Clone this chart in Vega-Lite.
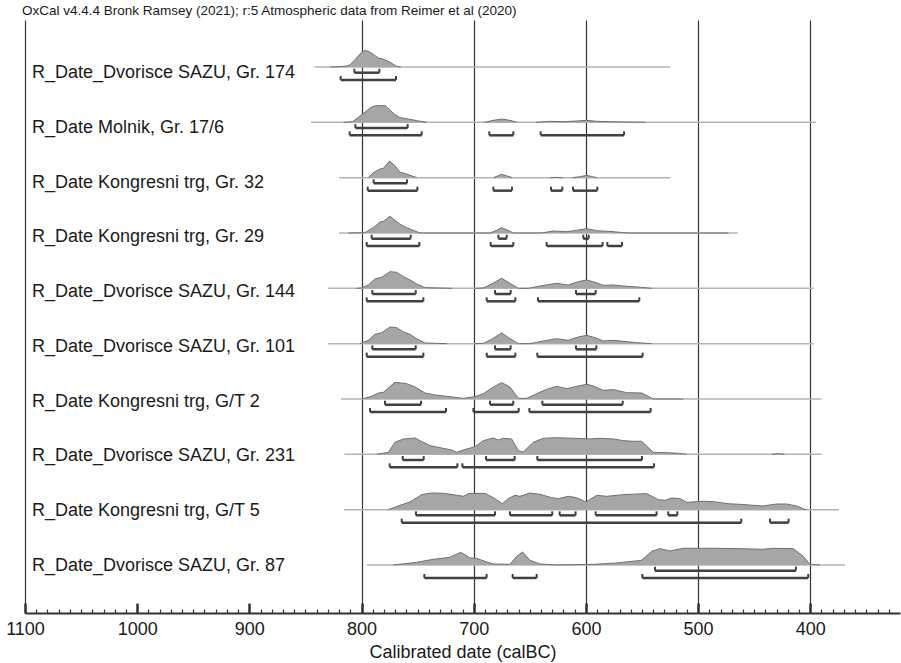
{
"$schema": "https://vega.github.io/schema/vega-lite/v6.json",
"width": 875, "height": 593,
"autosize": {"type": "none"},
"padding": {"left": 25, "top": 20, "right": 1, "bottom": 50},
"background": "white",
"title": {"text": "OxCal v4.4.4 Bronk Ramsey (2021); r:5 Atmospheric data from Reimer et al (2020)", "anchor": "start", "frame": "group", "font": "Liberation Sans", "fontSize": 13.5, "fontWeight": "normal", "color": "#1a1a1a", "offset": 3, "dx": -3},
"config": {"view": {"stroke": null}, "font": "Liberation Sans"},
"datasets": {
"rows": [
{"s":1,"name":"R_Date_Dvorisce SAZU, Gr. 174","start":842,"end":525},
{"s":2,"name":"R_Date Molnik, Gr. 17/6","start":845,"end":395},
{"s":3,"name":"R_Date Kongresni trg, Gr. 32","start":820,"end":524.5},
{"s":4,"name":"R_Date Kongresni trg, Gr. 29","start":820,"end":464.7},
{"s":5,"name":"R_Date_Dvorisce SAZU, Gr. 144","start":829.6,"end":397},
{"s":6,"name":"R_Date_Dvorisce SAZU, Gr. 101","start":829.6,"end":397},
{"s":7,"name":"R_Date Kongresni trg, G/T 2","start":818.3,"end":390},
{"s":8,"name":"R_Date_Dvorisce SAZU, Gr. 231","start":815.3,"end":390},
{"s":9,"name":"R_Date Kongresni trg, G/T 5","start":815.6,"end":374.4},
{"s":10,"name":"R_Date_Dvorisce SAZU, Gr. 87","start":795.4,"end":369.1}
],
"ranges": [
{"s":1,"lvl":"68.3","from":806.4,"to":784.1},
{"s":1,"lvl":"95.4","from":818.6,"to":769.3},
{"s":2,"lvl":"68.3","from":805.5,"to":758.9},
{"s":2,"lvl":"95.4","from":810.6,"to":746.4},
{"s":2,"lvl":"95.4","from":686.1,"to":664.7},
{"s":2,"lvl":"95.4","from":640.3,"to":566.0},
{"s":3,"lvl":"68.3","from":789.2,"to":759.5},
{"s":3,"lvl":"95.4","from":794.5,"to":750.2},
{"s":3,"lvl":"95.4","from":682.5,"to":665.9},
{"s":3,"lvl":"95.4","from":631.1,"to":621.0},
{"s":3,"lvl":"95.4","from":611.5,"to":589.8},
{"s":4,"lvl":"68.3","from":791.0,"to":756.2},
{"s":4,"lvl":"68.3","from":678.0,"to":670.6},
{"s":4,"lvl":"68.3","from":602.3,"to":597.5},
{"s":4,"lvl":"95.4","from":795.4,"to":748.5},
{"s":4,"lvl":"95.4","from":684.9,"to":664.7},
{"s":4,"lvl":"95.4","from":635.0,"to":585.1},
{"s":4,"lvl":"95.4","from":580.9,"to":567.8},
{"s":5,"lvl":"68.3","from":790.4,"to":751.7},
{"s":5,"lvl":"68.3","from":681.0,"to":667.1},
{"s":5,"lvl":"68.3","from":608.8,"to":591.3},
{"s":5,"lvl":"95.4","from":795.4,"to":744.9},
{"s":5,"lvl":"95.4","from":688.4,"to":662.9},
{"s":5,"lvl":"95.4","from":642.7,"to":552.4},
{"s":6,"lvl":"68.3","from":790.4,"to":751.7},
{"s":6,"lvl":"68.3","from":681.0,"to":667.1},
{"s":6,"lvl":"68.3","from":608.8,"to":590.7},
{"s":6,"lvl":"95.4","from":795.4,"to":744.9},
{"s":6,"lvl":"95.4","from":688.4,"to":662.9},
{"s":6,"lvl":"95.4","from":643.3,"to":549.4},
{"s":7,"lvl":"68.3","from":779.1,"to":747.0},
{"s":7,"lvl":"68.3","from":685.5,"to":664.7},
{"s":7,"lvl":"68.3","from":638.8,"to":567.2},
{"s":7,"lvl":"95.4","from":792.4,"to":724.7},
{"s":7,"lvl":"95.4","from":700.3,"to":659.9},
{"s":7,"lvl":"95.4","from":650.4,"to":542.3},
{"s":8,"lvl":"68.3","from":763.3,"to":744.6},
{"s":8,"lvl":"68.3","from":689.0,"to":663.5},
{"s":8,"lvl":"68.3","from":643.3,"to":550.0},
{"s":8,"lvl":"95.4","from":774.9,"to":714.6},
{"s":8,"lvl":"95.4","from":710.1,"to":539.3},
{"s":9,"lvl":"68.3","from":751.5,"to":681.0},
{"s":9,"lvl":"68.3","from":667.7,"to":630.0},
{"s":9,"lvl":"68.3","from":623.4,"to":609.2},
{"s":9,"lvl":"68.3","from":591.3,"to":537.0},
{"s":9,"lvl":"68.3","from":526.6,"to":518.5},
{"s":9,"lvl":"95.4","from":764.2,"to":461.5},
{"s":9,"lvl":"95.4","from":435.9,"to":419.3},
{"s":10,"lvl":"68.3","from":538.4,"to":412.8},
{"s":10,"lvl":"95.4","from":744.0,"to":688.5},
{"s":10,"lvl":"95.4","from":665.3,"to":643.9},
{"s":10,"lvl":"95.4","from":549.7,"to":401.8}
],
"dens": [
{"s":1,"g":1,"yr":828,"d":0},{"s":1,"g":1,"yr":820,"d":0.02},{"s":1,"g":1,"yr":813,"d":0.06},{"s":1,"g":1,"yr":810,"d":0.14},{"s":1,"g":1,"yr":805,"d":0.5},{"s":1,"g":1,"yr":800,"d":0.88},{"s":1,"g":1,"yr":796.5,"d":1},{"s":1,"g":1,"yr":792,"d":0.88},{"s":1,"g":1,"yr":788,"d":0.68},{"s":1,"g":1,"yr":785,"d":0.54},{"s":1,"g":1,"yr":781,"d":0.48},{"s":1,"g":1,"yr":775,"d":0.3},{"s":1,"g":1,"yr":769,"d":0.05},{"s":1,"g":1,"yr":765,"d":0},
{"s":2,"g":1,"yr":816,"d":0},{"s":2,"g":1,"yr":808,"d":0.04},{"s":2,"g":1,"yr":800,"d":0.45},{"s":2,"g":1,"yr":791,"d":0.92},{"s":2,"g":1,"yr":787,"d":1},{"s":2,"g":1,"yr":779,"d":1},{"s":2,"g":1,"yr":775,"d":0.76},{"s":2,"g":1,"yr":770,"d":0.45},{"s":2,"g":1,"yr":766,"d":0.29},{"s":2,"g":1,"yr":757,"d":0.18},{"s":2,"g":1,"yr":749,"d":0.08},{"s":2,"g":1,"yr":742,"d":0},
{"s":2,"g":2,"yr":690.5,"d":0},{"s":2,"g":2,"yr":682.5,"d":0.12},{"s":2,"g":2,"yr":675,"d":0.2},{"s":2,"g":2,"yr":667.7,"d":0.12},{"s":2,"g":2,"yr":661.7,"d":0},
{"s":2,"g":3,"yr":644.5,"d":0},{"s":2,"g":3,"yr":632,"d":0.06},{"s":2,"g":3,"yr":620,"d":0.04},{"s":2,"g":3,"yr":608,"d":0.08},{"s":2,"g":3,"yr":599.3,"d":0.12},{"s":2,"g":3,"yr":590.4,"d":0.06},{"s":2,"g":3,"yr":575.6,"d":0.03},{"s":2,"g":3,"yr":566.6,"d":0.02},{"s":2,"g":3,"yr":547,"d":0},
{"s":3,"g":1,"yr":794,"d":0},{"s":3,"g":1,"yr":789.5,"d":0.3},{"s":3,"g":1,"yr":783.5,"d":0.52},{"s":3,"g":1,"yr":780.5,"d":0.56},{"s":3,"g":1,"yr":775,"d":1},{"s":3,"g":1,"yr":770,"d":0.7},{"s":3,"g":1,"yr":765.7,"d":0.32},{"s":3,"g":1,"yr":759.8,"d":0.22},{"s":3,"g":1,"yr":750.8,"d":0},
{"s":3,"g":2,"yr":682.5,"d":0},{"s":3,"g":2,"yr":675,"d":0.2},{"s":3,"g":2,"yr":665.6,"d":0},
{"s":3,"g":3,"yr":632,"d":0},{"s":3,"g":3,"yr":626,"d":0.02},{"s":3,"g":3,"yr":621,"d":0},
{"s":3,"g":4,"yr":612,"d":0},{"s":3,"g":4,"yr":605,"d":0.06},{"s":3,"g":4,"yr":599.3,"d":0.14},{"s":3,"g":4,"yr":594,"d":0.06},{"s":3,"g":4,"yr":590.4,"d":0},
{"s":4,"g":1,"yr":811.7,"d":0},{"s":4,"g":1,"yr":797,"d":0.02},{"s":4,"g":1,"yr":789.5,"d":0.32},{"s":4,"g":1,"yr":783.5,"d":0.66},{"s":4,"g":1,"yr":780.5,"d":0.7},{"s":4,"g":1,"yr":774.6,"d":1},{"s":4,"g":1,"yr":770.2,"d":0.76},{"s":4,"g":1,"yr":765.7,"d":0.52},{"s":4,"g":1,"yr":759.8,"d":0.32},{"s":4,"g":1,"yr":747.9,"d":0},{"s":4,"g":1,"yr":685.5,"d":0},{"s":4,"g":1,"yr":679.5,"d":0.16},{"s":4,"g":1,"yr":675.1,"d":0.32},{"s":4,"g":1,"yr":670.6,"d":0.2},{"s":4,"g":1,"yr":664.7,"d":0},{"s":4,"g":1,"yr":639.4,"d":0},{"s":4,"g":1,"yr":629,"d":0.12},{"s":4,"g":1,"yr":617.1,"d":0.08},{"s":4,"g":1,"yr":608.2,"d":0.16},{"s":4,"g":1,"yr":599.3,"d":0.26},{"s":4,"g":1,"yr":590.4,"d":0.14},{"s":4,"g":1,"yr":575.6,"d":0.08},{"s":4,"g":1,"yr":566.6,"d":0.02},{"s":4,"g":1,"yr":560,"d":0},{"s":4,"g":1,"yr":473,"d":0},
{"s":5,"g":1,"yr":804.3,"d":0},{"s":5,"g":1,"yr":799.9,"d":0.02},{"s":5,"g":1,"yr":793.9,"d":0.2},{"s":5,"g":1,"yr":788,"d":0.56},{"s":5,"g":1,"yr":782,"d":0.66},{"s":5,"g":1,"yr":774.6,"d":1},{"s":5,"g":1,"yr":768.7,"d":0.96},{"s":5,"g":1,"yr":762.7,"d":0.7},{"s":5,"g":1,"yr":756.8,"d":0.5},{"s":5,"g":1,"yr":750.8,"d":0.26},{"s":5,"g":1,"yr":743.4,"d":0.04},{"s":5,"g":1,"yr":719.6,"d":0},
{"s":5,"g":2,"yr":698.8,"d":0},{"s":5,"g":2,"yr":691.4,"d":0.02},{"s":5,"g":2,"yr":684,"d":0.26},{"s":5,"g":2,"yr":675.1,"d":0.6},{"s":5,"g":2,"yr":667.7,"d":0.3},{"s":5,"g":2,"yr":660.2,"d":0},{"s":5,"g":2,"yr":651.3,"d":0},{"s":5,"g":2,"yr":640.9,"d":0.14},{"s":5,"g":2,"yr":626.1,"d":0.3},{"s":5,"g":2,"yr":615.7,"d":0.2},{"s":5,"g":2,"yr":606.7,"d":0.4},{"s":5,"g":2,"yr":599.3,"d":0.5},{"s":5,"g":2,"yr":591.9,"d":0.36},{"s":5,"g":2,"yr":584.5,"d":0.18},{"s":5,"g":2,"yr":575.6,"d":0.2},{"s":5,"g":2,"yr":566.6,"d":0.14},{"s":5,"g":2,"yr":557.7,"d":0.1},{"s":5,"g":2,"yr":547.3,"d":0.04},{"s":5,"g":2,"yr":541.4,"d":0},
{"s":6,"g":1,"yr":801.3,"d":0},{"s":6,"g":1,"yr":793.9,"d":0.2},{"s":6,"g":1,"yr":788,"d":0.56},{"s":6,"g":1,"yr":782,"d":0.66},{"s":6,"g":1,"yr":774.6,"d":1},{"s":6,"g":1,"yr":768.7,"d":0.96},{"s":6,"g":1,"yr":762.7,"d":0.7},{"s":6,"g":1,"yr":756.8,"d":0.56},{"s":6,"g":1,"yr":750.8,"d":0.3},{"s":6,"g":1,"yr":743.4,"d":0.04},{"s":6,"g":1,"yr":724.1,"d":0},
{"s":6,"g":2,"yr":698.8,"d":0},{"s":6,"g":2,"yr":691.4,"d":0.02},{"s":6,"g":2,"yr":684,"d":0.26},{"s":6,"g":2,"yr":675.1,"d":0.64},{"s":6,"g":2,"yr":667.7,"d":0.3},{"s":6,"g":2,"yr":660.2,"d":0},{"s":6,"g":2,"yr":649.8,"d":0},{"s":6,"g":2,"yr":639.4,"d":0.14},{"s":6,"g":2,"yr":626.1,"d":0.3},{"s":6,"g":2,"yr":615.7,"d":0.2},{"s":6,"g":2,"yr":606.7,"d":0.4},{"s":6,"g":2,"yr":599.3,"d":0.5},{"s":6,"g":2,"yr":591.9,"d":0.36},{"s":6,"g":2,"yr":584.5,"d":0.16},{"s":6,"g":2,"yr":575.6,"d":0.2},{"s":6,"g":2,"yr":566.6,"d":0.14},{"s":6,"g":2,"yr":554.8,"d":0.06},{"s":6,"g":2,"yr":541.4,"d":0},
{"s":7,"g":1,"yr":799.9,"d":0},{"s":7,"g":1,"yr":790.9,"d":0.16},{"s":7,"g":1,"yr":785,"d":0.36},{"s":7,"g":1,"yr":780.5,"d":0.4},{"s":7,"g":1,"yr":770.2,"d":1},{"s":7,"g":1,"yr":759.8,"d":0.92},{"s":7,"g":1,"yr":752.3,"d":0.72},{"s":7,"g":1,"yr":743.4,"d":0.36},{"s":7,"g":1,"yr":734.5,"d":0.24},{"s":7,"g":1,"yr":724.1,"d":0.16},{"s":7,"g":1,"yr":709.2,"d":0.04},{"s":7,"g":1,"yr":698.8,"d":0.14},{"s":7,"g":1,"yr":691.4,"d":0.32},{"s":7,"g":1,"yr":682.5,"d":0.72},{"s":7,"g":1,"yr":675.1,"d":0.98},{"s":7,"g":1,"yr":667.7,"d":0.72},{"s":7,"g":1,"yr":660.2,"d":0.04},{"s":7,"g":1,"yr":652.8,"d":0.04},{"s":7,"g":1,"yr":643.9,"d":0.32},{"s":7,"g":1,"yr":635,"d":0.58},{"s":7,"g":1,"yr":626.1,"d":0.76},{"s":7,"g":1,"yr":617.1,"d":0.62},{"s":7,"g":1,"yr":608.2,"d":0.76},{"s":7,"g":1,"yr":599.3,"d":0.88},{"s":7,"g":1,"yr":593.4,"d":0.78},{"s":7,"g":1,"yr":584.5,"d":0.52},{"s":7,"g":1,"yr":575.6,"d":0.56},{"s":7,"g":1,"yr":563.7,"d":0.38},{"s":7,"g":1,"yr":550.3,"d":0.36},{"s":7,"g":1,"yr":539.9,"d":0},{"s":7,"g":1,"yr":513.2,"d":0},
{"s":8,"g":1,"yr":786.5,"d":0},{"s":8,"g":1,"yr":776.1,"d":0.12},{"s":8,"g":1,"yr":770.2,"d":0.72},{"s":8,"g":1,"yr":762.7,"d":0.92},{"s":8,"g":1,"yr":752.3,"d":0.98},{"s":8,"g":1,"yr":747.9,"d":0.82},{"s":8,"g":1,"yr":739,"d":0.52},{"s":8,"g":1,"yr":727.1,"d":0.36},{"s":8,"g":1,"yr":719.6,"d":0.26},{"s":8,"g":1,"yr":715.2,"d":0.12},{"s":8,"g":1,"yr":709.2,"d":0.26},{"s":8,"g":1,"yr":698.8,"d":0.46},{"s":8,"g":1,"yr":691.4,"d":0.82},{"s":8,"g":1,"yr":682.5,"d":0.98},{"s":8,"g":1,"yr":678,"d":0.86},{"s":8,"g":1,"yr":673.6,"d":0.96},{"s":8,"g":1,"yr":666.2,"d":0.92},{"s":8,"g":1,"yr":660.2,"d":0.22},{"s":8,"g":1,"yr":655.8,"d":0.14},{"s":8,"g":1,"yr":646.9,"d":0.72},{"s":8,"g":1,"yr":638,"d":0.96},{"s":8,"g":1,"yr":626.1,"d":1},{"s":8,"g":1,"yr":611.2,"d":0.96},{"s":8,"g":1,"yr":596.4,"d":0.92},{"s":8,"g":1,"yr":587.4,"d":0.96},{"s":8,"g":1,"yr":575.6,"d":0.92},{"s":8,"g":1,"yr":566.6,"d":0.82},{"s":8,"g":1,"yr":557.7,"d":0.78},{"s":8,"g":1,"yr":550.3,"d":0.78},{"s":8,"g":1,"yr":539.9,"d":0.12},{"s":8,"g":1,"yr":528,"d":0.1},{"s":8,"g":1,"yr":517.6,"d":0.06},{"s":8,"g":1,"yr":510.2,"d":0},
{"s":8,"g":2,"yr":434,"d":0},{"s":8,"g":2,"yr":428.5,"d":0.04},{"s":8,"g":2,"yr":423,"d":0},
{"s":9,"g":1,"yr":776.1,"d":0},{"s":9,"g":1,"yr":765.7,"d":0.26},{"s":9,"g":1,"yr":756.8,"d":0.46},{"s":9,"g":1,"yr":746.4,"d":0.9},{"s":9,"g":1,"yr":737.5,"d":1},{"s":9,"g":1,"yr":727.1,"d":0.98},{"s":9,"g":1,"yr":716.7,"d":0.88},{"s":9,"g":1,"yr":709.3,"d":0.8},{"s":9,"g":1,"yr":704.8,"d":0.96},{"s":9,"g":1,"yr":690,"d":0.98},{"s":9,"g":1,"yr":682.5,"d":0.72},{"s":9,"g":1,"yr":674.5,"d":0.36},{"s":9,"g":1,"yr":669.2,"d":0.66},{"s":9,"g":1,"yr":663.2,"d":0.86},{"s":9,"g":1,"yr":658.8,"d":0.8},{"s":9,"g":1,"yr":649.9,"d":1},{"s":9,"g":1,"yr":641,"d":0.92},{"s":9,"g":1,"yr":630.5,"d":0.72},{"s":9,"g":1,"yr":624.6,"d":0.66},{"s":9,"g":1,"yr":615.7,"d":0.8},{"s":9,"g":1,"yr":608.3,"d":0.72},{"s":9,"g":1,"yr":600,"d":0.46},{"s":9,"g":1,"yr":590.4,"d":0.86},{"s":9,"g":1,"yr":581.5,"d":0.8},{"s":9,"g":1,"yr":566.7,"d":0.9},{"s":9,"g":1,"yr":545.9,"d":0.96},{"s":9,"g":1,"yr":535.5,"d":0.6},{"s":9,"g":1,"yr":529.5,"d":0.56},{"s":9,"g":1,"yr":523.6,"d":0.7},{"s":9,"g":1,"yr":516.2,"d":0.66},{"s":9,"g":1,"yr":510.2,"d":0.44},{"s":9,"g":1,"yr":495.4,"d":0.5},{"s":9,"g":1,"yr":486.4,"d":0.48},{"s":9,"g":1,"yr":473.1,"d":0.36},{"s":9,"g":1,"yr":462.7,"d":0.32},{"s":9,"g":1,"yr":450.8,"d":0.26},{"s":9,"g":1,"yr":441.9,"d":0.22},{"s":9,"g":1,"yr":430,"d":0.34},{"s":9,"g":1,"yr":421.1,"d":0.34},{"s":9,"g":1,"yr":412.2,"d":0.22},{"s":9,"g":1,"yr":404.7,"d":0.02},{"s":9,"g":1,"yr":403.2,"d":0},
{"s":10,"g":1,"yr":771.7,"d":0},{"s":10,"g":1,"yr":750.9,"d":0.16},{"s":10,"g":1,"yr":736,"d":0.34},{"s":10,"g":1,"yr":721.2,"d":0.46},{"s":10,"g":1,"yr":711.6,"d":0.76},{"s":10,"g":1,"yr":703.3,"d":0.42},{"s":10,"g":1,"yr":697.4,"d":0.4},{"s":10,"g":1,"yr":688.5,"d":0.18},{"s":10,"g":1,"yr":682.5,"d":0.06},{"s":10,"g":1,"yr":667.7,"d":0.04},{"s":10,"g":1,"yr":661.7,"d":0.52},{"s":10,"g":1,"yr":656.4,"d":0.78},{"s":10,"g":1,"yr":649.9,"d":0.28},{"s":10,"g":1,"yr":640.9,"d":0.06},{"s":10,"g":1,"yr":626.1,"d":0},{"s":10,"g":1,"yr":593.4,"d":0.04},{"s":10,"g":1,"yr":572.6,"d":0.12},{"s":10,"g":1,"yr":550.3,"d":0.28},{"s":10,"g":1,"yr":541.4,"d":0.82},{"s":10,"g":1,"yr":534,"d":0.98},{"s":10,"g":1,"yr":525.1,"d":0.84},{"s":10,"g":1,"yr":513.2,"d":1},{"s":10,"g":1,"yr":483.5,"d":1},{"s":10,"g":1,"yr":462.7,"d":0.98},{"s":10,"g":1,"yr":441.9,"d":0.94},{"s":10,"g":1,"yr":433,"d":1},{"s":10,"g":1,"yr":415.2,"d":0.98},{"s":10,"g":1,"yr":406.2,"d":0.52},{"s":10,"g":1,"yr":400.3,"d":0.04},{"s":10,"g":1,"yr":391.4,"d":0}
]
},
"layer": [
{"data": {"name": "rows"},
 "mark": {"type": "rule", "color": "#b4b4b4", "strokeWidth": 1.5},
 "encoding": {
  "x": {"field": "start", "type": "quantitative", "scale": {"domain": [320, 1100], "reverse": true, "nice": false, "zero": false},
   "axis": {"orient": "bottom", "values": [1100, 800, 700, 600, 500, 400], "grid": true, "gridColor": "#333333", "gridWidth": 1.2, "ticks": false, "labels": false, "domain": false, "title": null}},
  "x2": {"field": "end"},
  "y": {"field": "s", "type": "quantitative", "scale": {"domain": [0.1506, 10.8682], "reverse": true, "nice": false, "zero": false}, "axis": null}
 }},
{"data": {"name": "dens"}, "transform": [{"filter": "datum.s == 1"}],
 "mark": {"type": "area", "color": "#a6a6a6", "opacity": 1, "line": {"color": "#707070", "strokeWidth": 1}},
 "encoding": {"x": {"field": "yr", "type": "quantitative", "scale": {"domain": [320, 1100], "reverse": true, "nice": false, "zero": false},
   "axis": {"orient": "bottom", "values": [330,340,350,360,370,380,390,400,410,420,430,440,450,460,470,480,490,500,510,520,530,540,550,560,570,580,590,600,610,620,630,640,650,660,670,680,690,700,710,720,730,740,750,760,770,780,790,800,810,820,830,840,850,860,870,880,890,900,910,920,930,940,950,960,970,980,990,1000,1010,1020,1030,1040,1050,1060,1070,1080,1090,1100],
    "grid": false, "labels": false, "domain": false, "title": null, "ticks": true, "tickSize": -4, "tickWidth": 1.2, "tickColor": "#333333"}},
  "y": {"field": "d", "type": "quantitative", "stack": null, "scale": {"domain": [-32.6946, 2.8144], "nice": false, "zero": false}, "axis": null},
  "y2": {"datum": 0}, "detail": {"field": "g"}}},
{"data": {"name": "dens"}, "transform": [{"filter": "datum.s == 2"}],
 "mark": {"type": "area", "color": "#a6a6a6", "opacity": 1, "line": {"color": "#707070", "strokeWidth": 1}},
 "encoding": {"x": {"field": "yr", "type": "quantitative", "scale": {"domain": [320, 1100], "reverse": true, "nice": false, "zero": false},
   "axis": {"orient": "bottom", "values": [1100, 1000, 900, 800, 700, 600, 500, 400], "format": "d", "labelOverlap": false, "labelFlush": false,
    "labelFont": "Liberation Sans", "labelFontSize": 18, "labelColor": "#1a1a1a", "labelPadding": 17,
    "domainColor": "#333333", "domainWidth": 2, "tickColor": "#333333", "tickSize": -10, "tickWidth": 2.5, "grid": false,
    "title": "Calibrated date (calBC)", "titleFont": "Liberation Sans", "titleFontSize": 18, "titleFontWeight": "normal", "titleColor": "#1a1a1a", "titlePadding": 5}},
  "y": {"field": "d", "type": "quantitative", "stack": null, "scale": {"domain": [-29.3813, 6.1277], "nice": false, "zero": false}, "axis": null},
  "y2": {"datum": 0}, "detail": {"field": "g"}}},
{"data": {"name": "dens"}, "transform": [{"filter": "datum.s == 3"}],
 "mark": {"type": "area", "color": "#a6a6a6", "opacity": 1, "line": {"color": "#707070", "strokeWidth": 1}},
 "encoding": {"x": {"field": "yr", "type": "quantitative", "scale": {"domain": [320, 1100], "reverse": true, "nice": false, "zero": false}, "axis": null},
  "y": {"field": "d", "type": "quantitative", "stack": null, "scale": {"domain": [-26.0677, 9.4413], "nice": false, "zero": false}, "axis": null},
  "y2": {"datum": 0}, "detail": {"field": "g"}}},
{"data": {"name": "dens"}, "transform": [{"filter": "datum.s == 4"}],
 "mark": {"type": "area", "color": "#a6a6a6", "opacity": 1, "line": {"color": "#707070", "strokeWidth": 1}},
 "encoding": {"x": {"field": "yr", "type": "quantitative", "scale": {"domain": [320, 1100], "reverse": true, "nice": false, "zero": false}, "axis": null},
  "y": {"field": "d", "type": "quantitative", "stack": null, "scale": {"domain": [-22.7545, 12.7545], "nice": false, "zero": false}, "axis": null},
  "y2": {"datum": 0}, "detail": {"field": "g"}}},
{"data": {"name": "dens"}, "transform": [{"filter": "datum.s == 5"}],
 "mark": {"type": "area", "color": "#a6a6a6", "opacity": 1, "line": {"color": "#707070", "strokeWidth": 1}},
 "encoding": {"x": {"field": "yr", "type": "quantitative", "scale": {"domain": [320, 1100], "reverse": true, "nice": false, "zero": false}, "axis": null},
  "y": {"field": "d", "type": "quantitative", "stack": null, "scale": {"domain": [-19.4413, 16.0677], "nice": false, "zero": false}, "axis": null},
  "y2": {"datum": 0}, "detail": {"field": "g"}}},
{"data": {"name": "dens"}, "transform": [{"filter": "datum.s == 6"}],
 "mark": {"type": "area", "color": "#a6a6a6", "opacity": 1, "line": {"color": "#707070", "strokeWidth": 1}},
 "encoding": {"x": {"field": "yr", "type": "quantitative", "scale": {"domain": [320, 1100], "reverse": true, "nice": false, "zero": false}, "axis": null},
  "y": {"field": "d", "type": "quantitative", "stack": null, "scale": {"domain": [-16.1276, 19.3814], "nice": false, "zero": false}, "axis": null},
  "y2": {"datum": 0}, "detail": {"field": "g"}}},
{"data": {"name": "dens"}, "transform": [{"filter": "datum.s == 7"}],
 "mark": {"type": "area", "color": "#a6a6a6", "opacity": 1, "line": {"color": "#707070", "strokeWidth": 1}},
 "encoding": {"x": {"field": "yr", "type": "quantitative", "scale": {"domain": [320, 1100], "reverse": true, "nice": false, "zero": false}, "axis": null},
  "y": {"field": "d", "type": "quantitative", "stack": null, "scale": {"domain": [-12.8144, 22.6946], "nice": false, "zero": false}, "axis": null},
  "y2": {"datum": 0}, "detail": {"field": "g"}}},
{"data": {"name": "dens"}, "transform": [{"filter": "datum.s == 8"}],
 "mark": {"type": "area", "color": "#a6a6a6", "opacity": 1, "line": {"color": "#707070", "strokeWidth": 1}},
 "encoding": {"x": {"field": "yr", "type": "quantitative", "scale": {"domain": [320, 1100], "reverse": true, "nice": false, "zero": false}, "axis": null},
  "y": {"field": "d", "type": "quantitative", "stack": null, "scale": {"domain": [-9.5012, 26.0078], "nice": false, "zero": false}, "axis": null},
  "y2": {"datum": 0}, "detail": {"field": "g"}}},
{"data": {"name": "dens"}, "transform": [{"filter": "datum.s == 9"}],
 "mark": {"type": "area", "color": "#a6a6a6", "opacity": 1, "line": {"color": "#707070", "strokeWidth": 1}},
 "encoding": {"x": {"field": "yr", "type": "quantitative", "scale": {"domain": [320, 1100], "reverse": true, "nice": false, "zero": false}, "axis": null},
  "y": {"field": "d", "type": "quantitative", "stack": null, "scale": {"domain": [-6.1874, 29.3216], "nice": false, "zero": false}, "axis": null},
  "y2": {"datum": 0}, "detail": {"field": "g"}}},
{"data": {"name": "dens"}, "transform": [{"filter": "datum.s == 10"}],
 "mark": {"type": "area", "color": "#a6a6a6", "opacity": 1, "line": {"color": "#707070", "strokeWidth": 1}},
 "encoding": {"x": {"field": "yr", "type": "quantitative", "scale": {"domain": [320, 1100], "reverse": true, "nice": false, "zero": false}, "axis": null},
  "y": {"field": "d", "type": "quantitative", "stack": null, "scale": {"domain": [-2.8743, 32.6347], "nice": false, "zero": false}, "axis": null},
  "y2": {"datum": 0}, "detail": {"field": "g"}}},
{"data": {"name": "ranges"}, "transform": [{"filter": "datum.lvl == '68.3'"}],
 "mark": {"type": "rule", "color": "#404040", "strokeWidth": 2.5},
 "encoding": {"x": {"field": "from", "type": "quantitative", "scale": {"domain": [320, 1100], "reverse": true, "nice": false, "zero": false}, "axis": null},
  "x2": {"field": "to"},
  "y": {"field": "s", "type": "quantitative", "scale": {"domain": [0.04753, 10.7651], "reverse": true, "nice": false, "zero": false}, "axis": null}}},
{"data": {"name": "ranges"}, "transform": [{"filter": "datum.lvl == '95.4'"}],
 "mark": {"type": "rule", "color": "#404040", "strokeWidth": 2.5},
 "encoding": {"x": {"field": "from", "type": "quantitative", "scale": {"domain": [320, 1100], "reverse": true, "nice": false, "zero": false}, "axis": null},
  "x2": {"field": "to"},
  "y": {"field": "s", "type": "quantitative", "scale": {"domain": [-0.0844, 10.6332], "reverse": true, "nice": false, "zero": false}, "axis": null}}},
{"data": {"name": "ranges"}, "transform": [{"filter": "datum.lvl == '68.3'"}, {"fold": ["from", "to"], "as": ["end", "xe"]}],
 "mark": {"type": "rule", "color": "#404040", "strokeWidth": 2, "y2Offset": -4},
 "encoding": {"x": {"field": "xe", "type": "quantitative", "scale": {"domain": [320, 1100], "reverse": true, "nice": false, "zero": false}, "axis": null},
  "y": {"field": "s", "type": "quantitative", "scale": {"domain": [0.04753, 10.7651], "reverse": true, "nice": false, "zero": false}, "axis": null},
  "y2": {"field": "s"}}},
{"data": {"name": "ranges"}, "transform": [{"filter": "datum.lvl == '95.4'"}, {"fold": ["from", "to"], "as": ["end", "xe"]}],
 "mark": {"type": "rule", "color": "#404040", "strokeWidth": 2, "y2Offset": -4},
 "encoding": {"x": {"field": "xe", "type": "quantitative", "scale": {"domain": [320, 1100], "reverse": true, "nice": false, "zero": false}, "axis": null},
  "y": {"field": "s", "type": "quantitative", "scale": {"domain": [-0.0844, 10.6332], "reverse": true, "nice": false, "zero": false}, "axis": null},
  "y2": {"field": "s"}}},
{"data": {"name": "rows"},
 "mark": {"type": "text", "align": "left", "baseline": "middle", "font": "Liberation Sans", "fontSize": 18, "color": "#1a1a1a", "dx": 7},
 "encoding": {"x": {"datum": 1100, "type": "quantitative", "scale": {"domain": [320, 1100], "reverse": true, "nice": false, "zero": false}, "axis": null},
  "y": {"field": "s", "type": "quantitative", "scale": {"domain": [0.0325, 10.8575], "reverse": true, "nice": false, "zero": false}, "axis": null},
  "text": {"field": "name"}}}
],
"resolve": {"scale": {"y": "independent"}, "axis": {"x": "independent"}}
}
